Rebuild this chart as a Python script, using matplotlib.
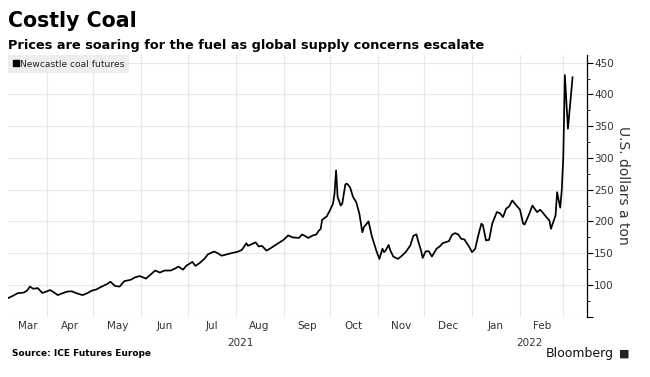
import pandas as pd
import matplotlib
matplotlib.use("Agg")
import matplotlib.pyplot as plt
import matplotlib.dates as mdates
from matplotlib.lines import Line2D
from matplotlib.ticker import MultipleLocator

# =====================================
# DATA
# =====================================

dates = [
    "2021-03-07", "2021-03-10", "2021-03-13", "2021-03-17", "2021-03-19", "2021-03-21",
    "2021-03-23", "2021-03-26", "2021-03-29", "2021-03-31", "2021-04-03", "2021-04-05",
    "2021-04-08", "2021-04-10", "2021-04-14", "2021-04-17", "2021-04-20", "2021-04-24",
    "2021-04-27", "2021-04-30", "2021-05-03", "2021-05-06", "2021-05-10", "2021-05-12",
    "2021-05-15", "2021-05-18", "2021-05-21", "2021-05-25", "2021-05-28", "2021-05-31",
    "2021-06-04", "2021-06-07", "2021-06-10", "2021-06-13", "2021-06-16", "2021-06-20",
    "2021-06-23", "2021-06-25", "2021-06-28", "2021-06-30", "2021-07-04", "2021-07-06",
    "2021-07-09", "2021-07-12", "2021-07-14", "2021-07-18", "2021-07-20", "2021-07-23",
    "2021-07-26", "2021-07-30", "2021-08-02", "2021-08-05", "2021-08-08", "2021-08-09",
    "2021-08-14", "2021-08-16", "2021-08-18", "2021-08-21", "2021-08-24", "2021-08-28",
    "2021-09-01", "2021-09-04", "2021-09-07", "2021-09-11", "2021-09-13", "2021-09-15",
    "2021-09-17", "2021-09-20", "2021-09-22", "2021-09-24", "2021-09-25", "2021-09-26",
    "2021-09-29", "2021-10-01", "2021-10-03", "2021-10-04", "2021-10-05", "2021-10-06",
    "2021-10-08", "2021-10-09", "2021-10-11", "2021-10-12", "2021-10-14", "2021-10-16",
    "2021-10-18", "2021-10-20", "2021-10-22", "2021-10-23", "2021-10-26", "2021-10-28",
    "2021-10-31", "2021-11-02", "2021-11-04", "2021-11-05", "2021-11-06", "2021-11-08",
    "2021-11-09", "2021-11-11", "2021-11-14", "2021-11-16", "2021-11-19", "2021-11-22",
    "2021-11-24", "2021-11-26", "2021-11-27", "2021-11-29", "2021-11-30", "2021-12-02",
    "2021-12-04", "2021-12-06", "2021-12-09", "2021-12-11", "2021-12-13", "2021-12-17",
    "2021-12-19", "2021-12-21", "2021-12-23", "2021-12-25", "2021-12-27", "2021-12-30",
    "2022-01-01", "2022-01-03", "2022-01-05", "2022-01-07", "2022-01-08", "2022-01-10",
    "2022-01-12", "2022-01-14", "2022-01-17", "2022-01-19", "2022-01-21", "2022-01-23",
    "2022-01-25", "2022-01-27", "2022-01-29", "2022-02-01", "2022-02-03", "2022-02-04",
    "2022-02-07", "2022-02-09", "2022-02-12", "2022-02-14", "2022-02-16", "2022-02-18",
    "2022-02-20", "2022-02-21", "2022-02-24", "2022-02-25", "2022-02-27", "2022-02-28",
    "2022-03-01", "2022-03-02", "2022-03-04", "2022-03-07",
]

prices = [
    79.5, 83, 87, 88, 91, 97.4,
    94, 95, 87.4, 89, 92, 89,
    84, 86, 89.5, 90, 87, 84,
    87, 91, 93, 97, 101.6, 105,
    98.4, 97.4, 106, 108, 112, 114,
    110, 116.3, 122.7, 119.5, 122.7, 122.7,
    126, 129, 124, 130, 136.3, 130,
    135, 141.6, 148, 152.6, 150.5, 146,
    148, 150.5, 152, 155, 165.8, 161.6,
    167, 160.5, 161.6, 154, 158.4, 164.7,
    171, 178, 174.8, 174, 179.5, 177,
    174, 178, 179, 186, 188, 202.6,
    208, 217.4, 228, 243.7, 280.5, 238.4,
    225, 228, 258.4, 259.5, 254, 238.4,
    230.5, 213, 183, 191, 200, 178,
    154.2, 141, 157, 151.6, 154, 163,
    155, 144.7, 141, 144.7, 151.6, 162,
    177.4, 179.5, 170, 154, 142.6, 153,
    153, 144.7, 157, 160.5, 165.8, 169,
    179, 181.6, 179.5, 172.6, 171.6, 160.5,
    151.6, 157, 178, 196.4, 194, 170,
    171, 196.4, 214.7, 213, 206.8, 220,
    223.7, 233, 227, 218.4, 196.4, 195.3,
    212, 225, 214.7, 218.4, 213, 206.8,
    201.6, 188.4, 209.5, 246, 221.6, 249,
    301.6, 430.5, 346, 427,
]

series_label = "Newcastle coal futures"
y_ticks = [100, 150, 200, 250, 300, 350, 400, 450]

df = pd.DataFrame({"date": pd.to_datetime(dates), "price": prices})

# =====================================
# PLOT
# =====================================

plt.rcParams["font.family"] = ["DejaVu Sans"]

fig = plt.figure(figsize=(6.5, 3.77), dpi=100)
ax = fig.add_axes([8 / 650, 1 - 316.7 / 377, (587 - 8) / 650, (316.7 - 55) / 377])

x_start = pd.Timestamp("2021-03-06 18:00")
x_end = pd.Timestamp("2022-03-16 08:00")

ax.plot(df["date"], df["price"], color="black", lw=1.25, zorder=3)

ax.set_xlim(x_start, x_end)
ax.set_ylim(50, 462)

# grid: month boundaries + every 50
ax.xaxis.set_major_locator(mdates.MonthLocator())
ax.xaxis.set_major_formatter(plt.NullFormatter())
ax.set_yticks([50] + y_ticks)
ax.yaxis.set_minor_locator(MultipleLocator(25))
ax.grid(True, which="major", color="#e8e8e8", lw=0.8, zorder=0)
ax.tick_params(axis="x", which="both", length=0)

# month labels centred on the visible part of each month
month_starts = pd.date_range("2021-03-01", "2022-03-01", freq="MS")
for m in month_starts[:-1]:
    a = max(m, x_start)
    b = min(m + pd.offsets.MonthBegin(1), x_end)
    ax.text(mdates.date2num(a + (b - a) / 2), -0.018, m.strftime("%b"),
            transform=ax.get_xaxis_transform(), ha="center", va="top",
            fontsize=7.5, color="#333333")

# year labels centred on each year's span
for yr, a, b in [("2021", x_start, pd.Timestamp("2022-01-01")),
                 ("2022", pd.Timestamp("2022-01-01"), x_end)]:
    ax.text(mdates.date2num(a + (b - a) / 2), -0.083, yr, transform=ax.get_xaxis_transform(),
            ha="center", va="top", fontsize=7.5, color="#333333")

# right axis
ax.yaxis.tick_right()
ax.yaxis.set_label_position("right")
ax.set_yticklabels([""] + [str(v) for v in y_ticks])
ax.tick_params(axis="y", which="major", length=4, width=0.8, color="black",
               labelsize=7.5, labelcolor="#333333", pad=1)
ax.tick_params(axis="y", which="minor", length=2, width=0.6, color="black")
ax.set_ylabel("U.S. dollars a ton", rotation=270, fontsize=10, color="#333333", labelpad=12)

for s in ["top", "left", "bottom"]:
    ax.spines[s].set_visible(False)
ax.spines["right"].set_color("black")
ax.spines["right"].set_linewidth(0.9)

# legend box
handle = Line2D([], [], marker="s", color="black", markersize=5, linestyle="none")
leg = ax.legend([handle], [series_label], loc="upper left", bbox_to_anchor=(0, 1.0),
                handlelength=0.7, handletextpad=0.1, fontsize=6.6, frameon=True,
                fancybox=False, borderpad=0.5, borderaxespad=0)
leg.get_frame().set_facecolor("#eeeeee")
leg.get_frame().set_edgecolor("none")
leg.get_frame().set_alpha(1)
for t in leg.get_texts():
    t.set_color("#222222")

# =====================================
# TEXT
# =====================================

fig.text(8 / 650, 1 - 27 / 377, "Costly Coal", fontsize=14.8, fontweight="bold",
         ha="left", va="baseline")
fig.text(8 / 650, 1 - 49 / 377, "Prices are soaring for the fuel as global supply concerns escalate",
         fontsize=9.3, fontweight="bold", ha="left", va="baseline")
fig.text(12 / 650, 1 - 356 / 377, "Source: ICE Futures Europe", fontsize=6.5,
         fontweight="bold", ha="left", va="baseline")
fig.text(614 / 650, 1 - 357 / 377, "Bloomberg", fontsize=9, ha="right", va="baseline",
         color="#111111")
fig.text(619 / 650, 1 - 357 / 377, "\u25A0", fontsize=8, ha="left", va="baseline", color="#222222")

fig.savefig("out.png", dpi=100)
